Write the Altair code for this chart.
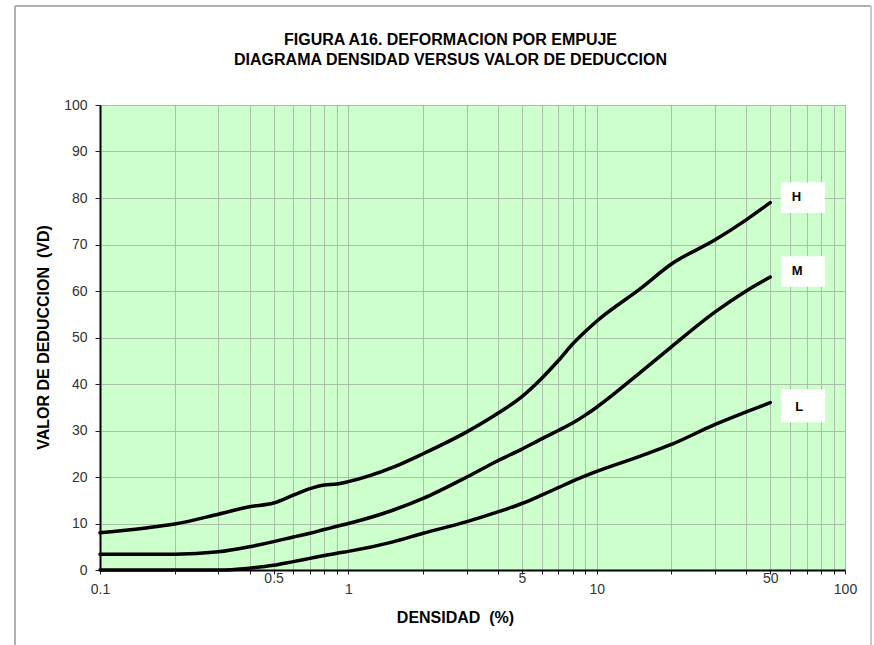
import altair as alt
import pandas as pd

# ---- data ----
h_x = [0.1, 0.15, 0.2, 0.3, 0.4, 0.5, 0.6, 0.7, 0.8, 0.9, 1, 1.5, 2, 3, 4, 5, 6, 7, 8, 9, 10, 15, 20, 30, 40, 50]
h_y = [8.0, 9.0, 9.9, 12.0, 13.6, 14.4, 16.1, 17.5, 18.3, 18.5, 19.0, 22.0, 25.0, 29.7, 33.7, 37.3, 41.2, 45.0, 48.6, 51.3, 53.5, 60.5, 65.8, 71.0, 75.3, 79.0]

m_x = [0.1, 0.2, 0.3, 0.4, 0.5, 0.6, 0.7, 0.8, 0.9, 1, 1.5, 2, 3, 4, 5, 6, 7, 8, 9, 10, 15, 20, 30, 40, 50]
m_y = [3.4, 3.4, 3.9, 5.0, 6.1, 7.1, 7.9, 8.7, 9.4, 10.0, 12.8, 15.4, 20.0, 23.5, 26.0, 28.2, 30.0, 31.6, 33.3, 35.0, 42.5, 48.0, 55.5, 60.0, 63.0]

l_x = [0.1, 0.2, 0.3, 0.4, 0.5, 0.6, 0.7, 0.8, 0.9, 1, 1.5, 2, 3, 4, 5, 6, 7, 8, 10, 15, 20, 30, 40, 50]
l_y = [0.0, 0.0, 0.0, 0.4, 1.0, 1.8, 2.5, 3.1, 3.6, 4.0, 6.0, 7.9, 10.4, 12.5, 14.3, 16.1, 17.7, 19.1, 21.2, 24.5, 27.0, 31.3, 34.0, 36.0]

label_names = ["H", "M", "L"]
label_x = [61.0, 61.0, 63.0]
label_y = [80.2, 64.3, 35.1]
box_x1 = [55.3, 55.3, 55.3]
box_x2 = [83.1, 83.1, 83.1]
box_y1 = [76.8, 60.9, 31.8]
box_y2 = [83.4, 67.5, 38.9]

x_ticks = [0.1, 0.2, 0.3, 0.4, 0.5, 0.6, 0.7, 0.8, 0.9,
           1, 2, 3, 4, 5, 6, 7, 8, 9,
           10, 20, 30, 40, 50, 60, 70, 80, 90, 100]
x_labels = [0.1, 0.5, 1, 5, 10, 50, 100]
x_raised = [0.5, 5, 50]
y_ticks = [0, 10, 20, 30, 40, 50, 60, 70, 80, 90, 100]

title_lines = ["FIGURA A16. DEFORMACION POR EMPUJE",
               "DIAGRAMA DENSIDAD VERSUS VALOR DE DEDUCCION"]
x_title = "DENSIDAD \u00a0(%)"
y_title = "VALOR DE DEDUCCION \u00a0(VD)"

FONT = "Liberation Sans, Arial, sans-serif"

# ---- tables ----
curves = pd.concat([
    pd.DataFrame({"x": h_x, "y": h_y, "s": "H"}),
    pd.DataFrame({"x": m_x, "y": m_y, "s": "M"}),
    pd.DataFrame({"x": l_x, "y": l_y, "s": "L"}),
])
labels = pd.DataFrame({"name": label_names, "x": label_x, "y": label_y,
                       "x1": box_x1, "x2": box_x2, "y1": box_y1, "y2": box_y2})
one = pd.DataFrame({"a": [0]})


def is_in(vals):
    return "||".join(f"datum.value=={v}" for v in vals)


x_scale = alt.Scale(type="log", domain=[0.1, 100], nice=False)
y_scale = alt.Scale(domain=[0, 100], nice=False)

x_axis = alt.Axis(
    values=x_ticks,
    labelExpr=f"({is_in(x_labels)}) ? format(datum.value, '~g') : ''",
    grid=True, gridColor="#a9bfa9", gridWidth=1,
    domainColor="black", domainWidth=2,
    tickColor="#222", tickSize=4, tickWidth=1,
    labelFont=FONT, labelFontSize=14, labelColor="#333", labelFlush=False,
    labelPadding={"condition": {"test": is_in(x_raised), "value": -3}, "value": 8},
    labelOverlap=False,
    title=x_title, titleFont=FONT, titleFontSize=16, titleFontWeight="bold",
    titleColor="black", titleX=355, titleY=47, titleBaseline="middle",
)
y_axis = alt.Axis(
    values=y_ticks,
    grid=True, gridColor="#a9bfa9", gridWidth=1,
    domainColor="black", domainWidth=2,
    tickColor="#222", tickSize=5, tickWidth=1,
    labelFont=FONT, labelFontSize=14, labelColor="#333", labelPadding=8,
    title=y_title, titleFont=FONT, titleFontSize=16, titleFontWeight="bold",
    titleColor="black", titleX=-57, titleY=232, titleBaseline="middle",
)

lines = alt.Chart(curves).mark_line(
    color="black", strokeWidth=3.5, interpolate="monotone", strokeCap="round"
).encode(
    x=alt.X("x:Q", scale=x_scale, axis=x_axis),
    y=alt.Y("y:Q", scale=y_scale, axis=y_axis),
    detail="s:N",
)

boxes = alt.Chart(labels).mark_rect(color="white").encode(
    x=alt.X("x1:Q", scale=x_scale), x2="x2:Q",
    y=alt.Y("y1:Q", scale=y_scale), y2="y2:Q",
)

texts = alt.Chart(labels).mark_text(
    font=FONT, fontSize=13, fontWeight="bold", color="black", align="left", baseline="middle"
).encode(
    x=alt.X("x:Q", scale=x_scale), y=alt.Y("y:Q", scale=y_scale), text="name:N"
)

frame_left = alt.Chart(one).mark_rule(color="#b0b0b0", strokeWidth=2).encode(
    x=alt.value(-85), y=alt.value(-99), y2=alt.value(545))
frame_top = alt.Chart(one).mark_rule(color="#b0b0b0", strokeWidth=2).encode(
    x=alt.value(-85), x2=alt.value(771), y=alt.value(-99))
frame_right = alt.Chart(one).mark_rule(color="#c8c8c8", strokeWidth=2).encode(
    x=alt.value(771), y=alt.value(-99), y2=alt.value(545))

chart = alt.layer(
    boxes, lines, texts, frame_left, frame_top, frame_right
).properties(
    width=745, height=465,
    background="white",
    autosize=alt.AutoSizeParams(type="none"),
    padding={"left": 100, "top": 105, "right": 29, "bottom": 75},
    title=alt.TitleParams(
        text=title_lines, font=FONT, fontSize=16, fontWeight="bold", color="black",
        anchor="middle", frame="group", dx=-22, offset=-63, lineHeight=20,
    ),
).configure_view(
    fill="#CCFFCC", stroke="#999999", strokeWidth=1
)

chart.save("out.html", embed_options={"renderer": "svg", "actions": False})
